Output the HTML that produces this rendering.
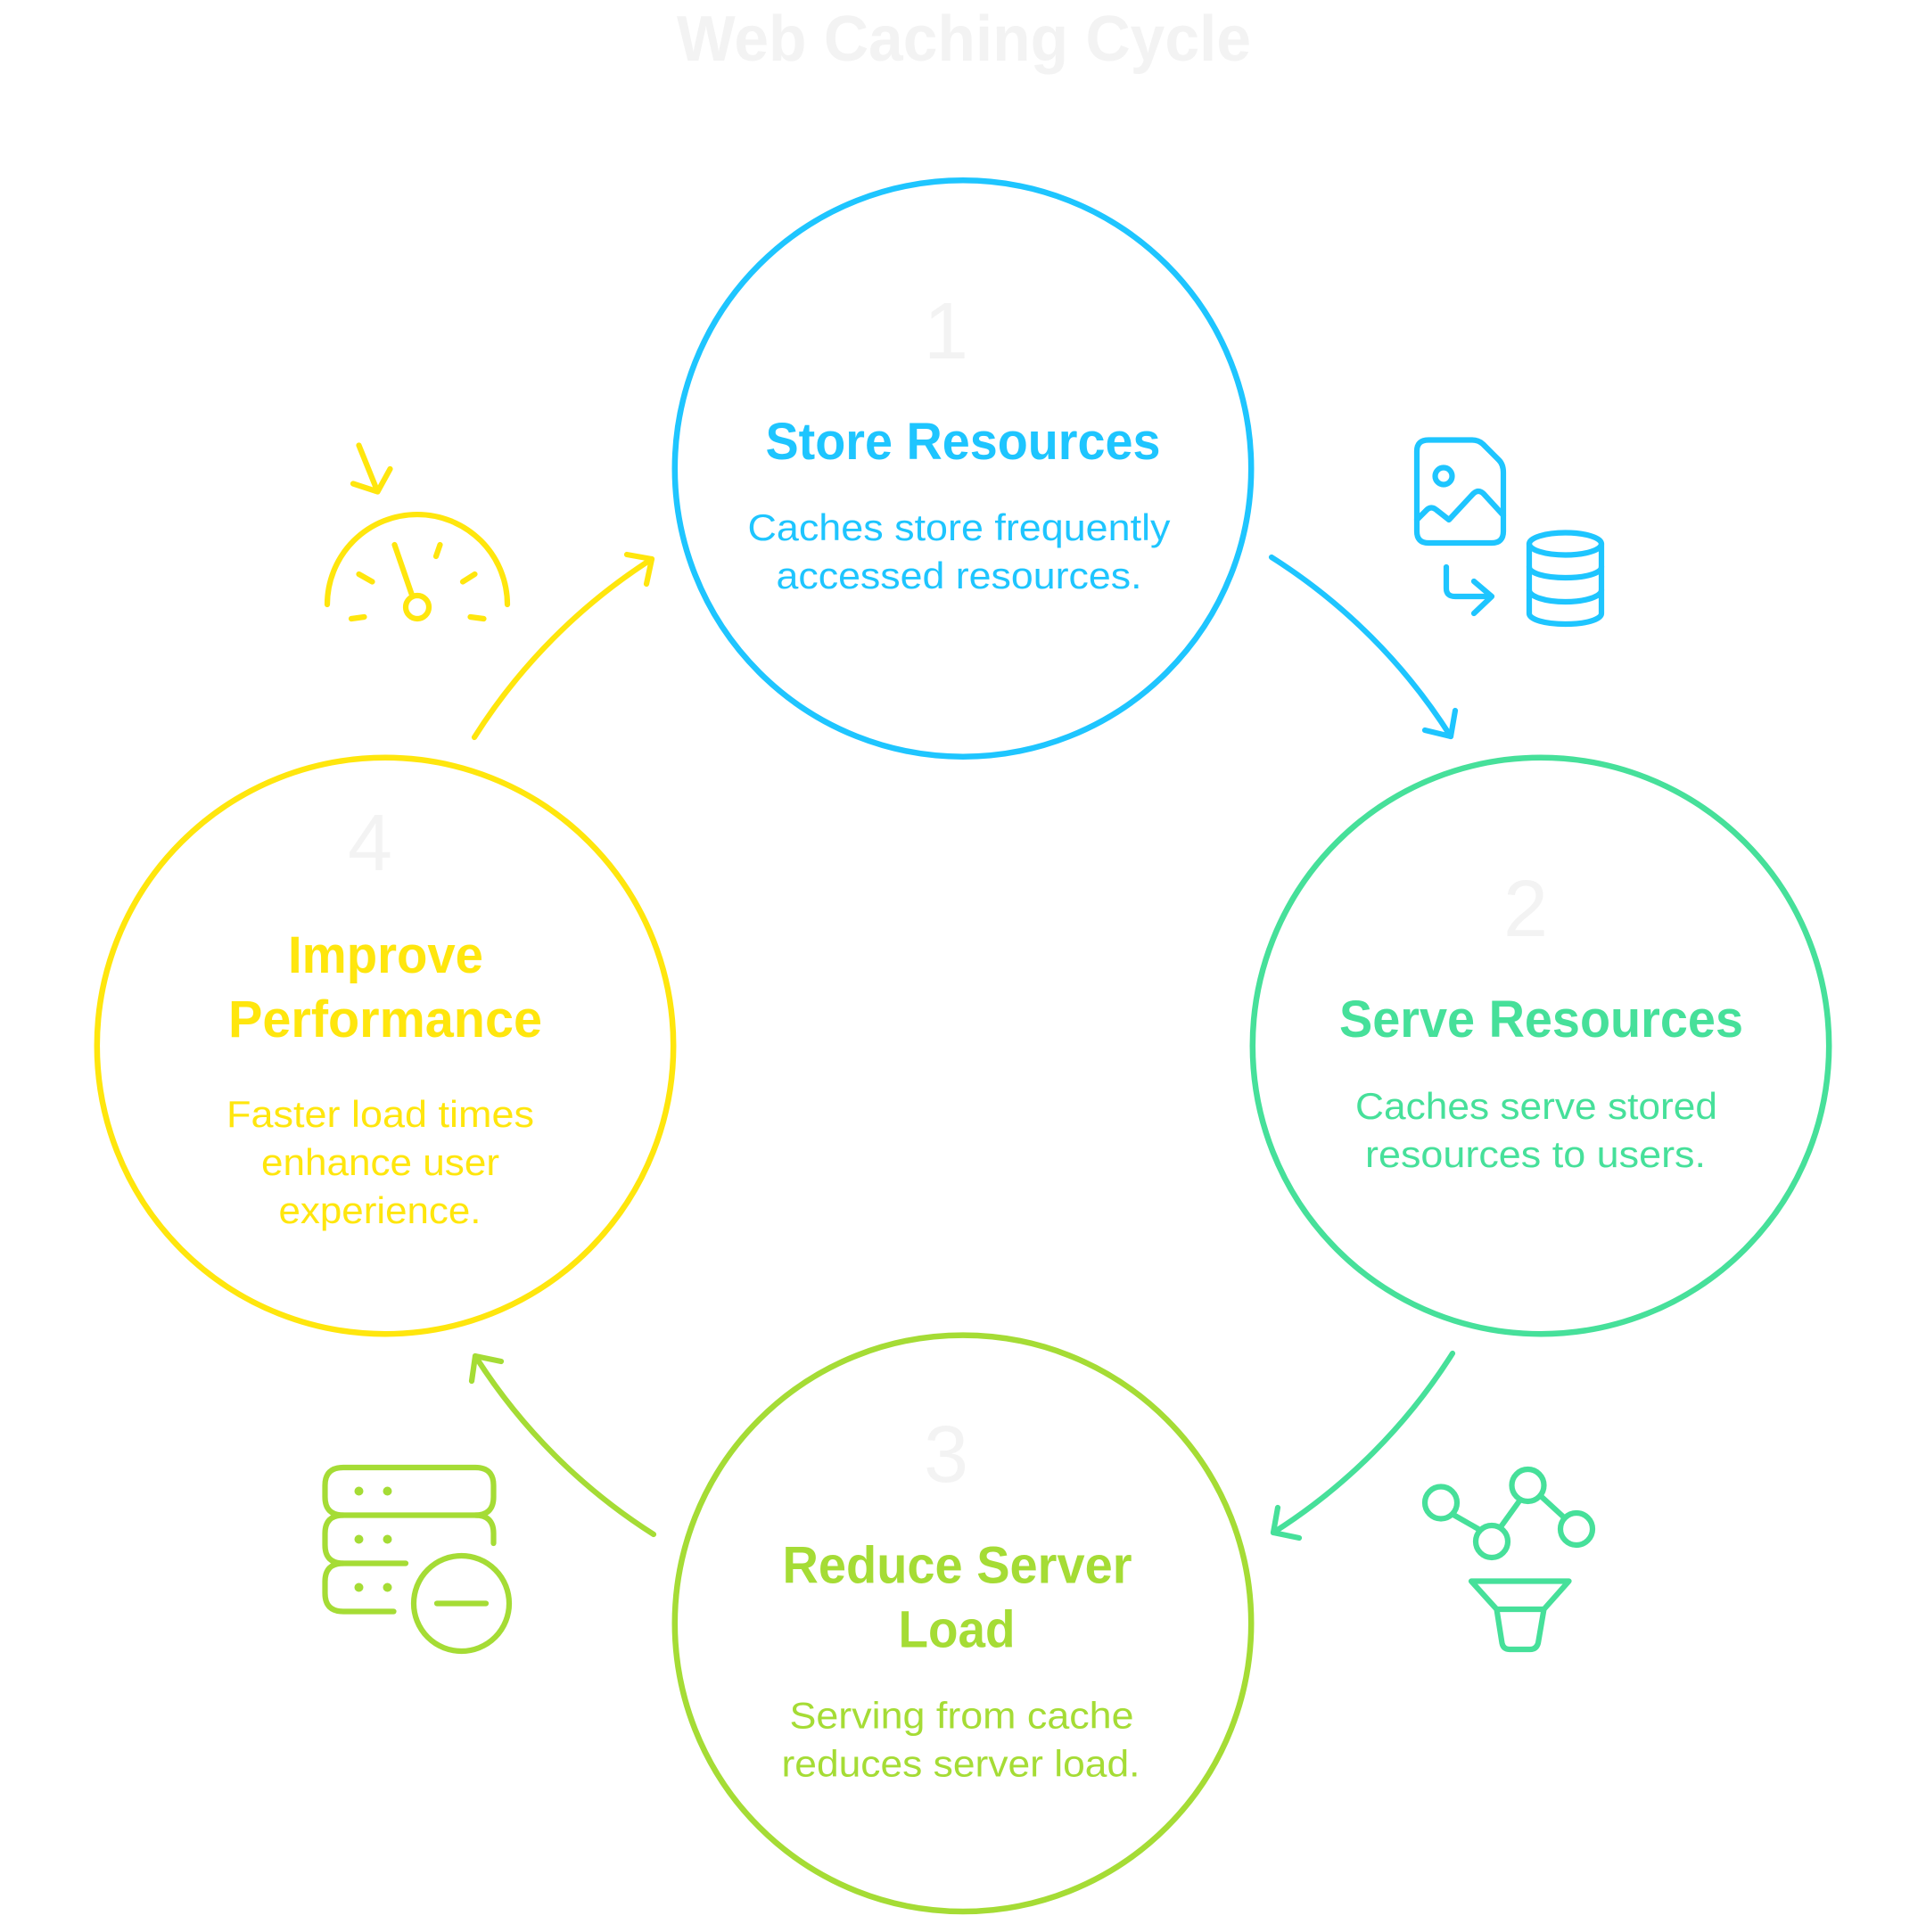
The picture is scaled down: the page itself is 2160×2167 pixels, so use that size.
<!DOCTYPE html>
<html>
<head>
<meta charset="utf-8">
<title>Web Caching Cycle</title>
<style>
html,body{margin:0;padding:0;background:#fff;width:2160px;height:2167px;overflow:hidden}
svg{display:block}
text{font-family:"Liberation Sans",sans-serif}
.h{font-weight:700;font-size:58px}
.b{font-size:42px}
.n{font-size:90px;fill:#f3f3f3}
.s{fill:none;stroke-width:6.2;stroke-linecap:round;stroke-linejoin:round}
.c{stroke-width:6.5}
</style>
</head>
<body>
<svg width="2160" height="2167" viewBox="0 0 2160 2167" xmlns="http://www.w3.org/2000/svg">
<rect width="2160" height="2167" fill="#fff"/>
<text x="759" y="68" font-size="72" font-weight="700" fill="#f3f3f3" textLength="644" lengthAdjust="spacingAndGlyphs">Web Caching Cycle</text>

<!-- Blue -->
<g stroke="#1ec5ff" class="s">
<circle class="c" cx="1080" cy="525.5" r="323.2"/>
<path d="M1426 625A648 648 0 0 1 1627 826"/>
<path d="M1598 819L1627 826L1632 797"/>
<path d="M1602 493.5H1651Q1658 493.5 1663 498L1681 516Q1686 521 1686 530V596Q1686 609 1673 609H1602Q1589 609 1589 596V506Q1589 493.5 1602 493.5Z"/>
<circle cx="1619" cy="534" r="9.5"/>
<path d="M1589 583L1600 572Q1605 567 1611 572L1625 583L1652 554Q1658 548 1664 554L1686 578"/>
<path d="M1622 636V660Q1622 669 1632 669H1673M1653 652L1673 669L1653 688"/>
<ellipse cx="1755.5" cy="610" rx="40.5" ry="12.5"/>
<path d="M1715 610V688C1715 695 1733 700 1755.5 700C1778 700 1796 695 1796 688V610"/>
<path d="M1715 636C1715 643 1733 648 1755.5 648C1778 648 1796 643 1796 636"/>
<path d="M1715 662C1715 669 1733 675 1755.5 675C1778 675 1796 669 1796 662"/>
</g>
<g fill="#1ec5ff">
<text class="n" x="1036" y="402" style="fill:#f3f3f3">1</text>
<text class="h" x="858.5" y="515" textLength="443" lengthAdjust="spacingAndGlyphs">Store Resources</text>
<text class="b" x="838.5" y="606" textLength="474" lengthAdjust="spacingAndGlyphs">Caches store frequently</text>
<text class="b" x="870.5" y="660" textLength="410" lengthAdjust="spacingAndGlyphs">accessed resources.</text>
</g>

<!-- Green -->
<g stroke="#46e09a" class="s">
<circle class="c" cx="1728" cy="1173" r="323.2"/>
<path d="M1629 1518A648 648 0 0 1 1428 1719"/>
<path d="M1433 1691L1428 1719L1457 1725"/>
<circle cx="1616" cy="1685.5" r="18"/>
<circle cx="1673" cy="1729" r="18"/>
<circle cx="1713.5" cy="1666" r="18"/>
<circle cx="1768" cy="1715" r="18"/>
<path d="M1630 1699L1658 1715M1683.5 1712L1704 1683.5M1728.5 1678.5L1753.5 1701.5"/>
<path d="M1650 1773.5H1759.5L1731.5 1805H1678.5Z"/>
<path d="M1678.5 1805L1684.5 1843Q1686 1850 1693 1850H1716Q1723 1850 1725 1843L1731.5 1805"/>
</g>
<g fill="#46e09a">
<text class="n" x="1686" y="1050" style="fill:#f3f3f3">2</text>
<text class="h" x="1502" y="1163" textLength="453" lengthAdjust="spacingAndGlyphs">Serve Resources</text>
<text class="b" x="1520" y="1255" textLength="406" lengthAdjust="spacingAndGlyphs">Caches serve stored</text>
<text class="b" x="1531" y="1309" textLength="382" lengthAdjust="spacingAndGlyphs">resources to users.</text>
</g>

<!-- Lime -->
<g stroke="#a5dc35" class="s">
<circle class="c" cx="1080" cy="1820.8" r="323.2"/>
<path d="M733 1721A648 648 0 0 1 533 1521"/>
<path d="M529 1549L533 1521L562 1527"/>
<path d="M385 1646H533Q553.5 1646 553.5 1666V1679Q553.5 1699.5 533 1699.5H385Q364.5 1699.5 364.5 1679V1666Q364.5 1646 385 1646Z"/>
<path d="M553.5 1731V1720Q553.5 1699.5 533 1699.5M385 1699.5Q364.5 1699.5 364.5 1720V1733Q364.5 1753.5 385 1753.5H455"/>
<path d="M385 1753.5Q364.5 1753.5 364.5 1774V1787Q364.5 1807.5 385 1807.5H441.5"/>
<circle cx="517.5" cy="1798.5" r="53.5"/>
<path d="M490 1798.5H545"/>
</g>
<g fill="#a5dc35">
<circle cx="402.5" cy="1672.5" r="5"/><circle cx="434.5" cy="1672.5" r="5"/>
<circle cx="402.5" cy="1726.5" r="5"/><circle cx="434.5" cy="1726.5" r="5"/>
<circle cx="402.5" cy="1780.5" r="5"/><circle cx="434.5" cy="1780.5" r="5"/>
<text class="n" x="1036" y="1662" style="fill:#f3f3f3">3</text>
<text class="h" x="877.5" y="1775.5" textLength="392" lengthAdjust="spacingAndGlyphs">Reduce Server</text>
<text class="h" x="1007.5" y="1847.5" textLength="131" lengthAdjust="spacingAndGlyphs">Load</text>
<text class="b" x="885.5" y="1938.5" textLength="386" lengthAdjust="spacingAndGlyphs">Serving from cache</text>
<text class="b" x="876.5" y="1992.5" textLength="402" lengthAdjust="spacingAndGlyphs">reduces server load.</text>
</g>

<!-- Yellow -->
<g stroke="#ffe60d" class="s">
<circle class="c" cx="432" cy="1173" r="323.2"/>
<path d="M532 827A648 648 0 0 1 731 627"/>
<path d="M703 622L731 627L725 655"/>
<path d="M367 678A101 101 0 0 1 569 678"/>
<circle cx="468" cy="681" r="13"/>
<path d="M442.5 611L461.5 666"/>
<path d="M493.5 611L489 624M402.5 644L417.5 652.5M532.5 644L519 652.5M394 694L408.5 692M542.5 694L527.5 692"/>
<path d="M402.5 499.5L423.5 551.5M396 542.5L423.5 551.5L437.5 526"/>
</g>
<g fill="#ffe60d">
<text class="n" x="390" y="976" style="fill:#f3f3f3">4</text>
<text class="h" x="323" y="1091" textLength="219" lengthAdjust="spacingAndGlyphs">Improve</text>
<text class="h" x="256" y="1163" textLength="352" lengthAdjust="spacingAndGlyphs">Performance</text>
<text class="b" x="254" y="1264" textLength="345" lengthAdjust="spacingAndGlyphs">Faster load times</text>
<text class="b" x="293" y="1318" textLength="267" lengthAdjust="spacingAndGlyphs">enhance user</text>
<text class="b" x="312.5" y="1372" textLength="227" lengthAdjust="spacingAndGlyphs">experience.</text>
</g>
</svg>
</body>
</html>
